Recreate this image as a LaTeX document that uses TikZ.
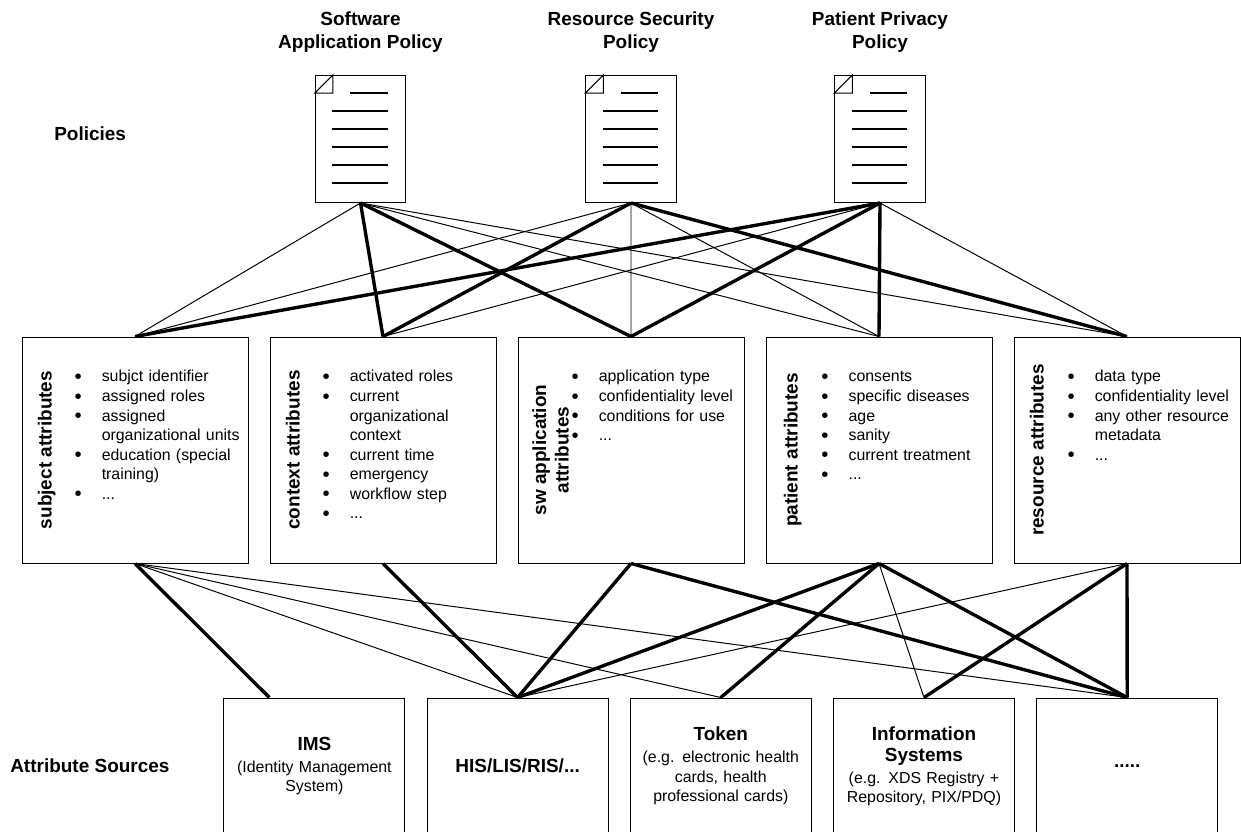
\documentclass[tikz,border=0pt]{standalone}
\usepackage{fontspec}
\setmainfont{Liberation Sans}
\usepackage{tikz}
\usetikzlibrary{calc}

\tikzstyle{doc} = [rectangle, minimum width=2.26cm, minimum height=3.175cm, draw=black, line width=0.7pt]
\tikzstyle{attrbox} = [rectangle, minimum width=5.65cm, minimum height=5.65cm, draw=black, line width=0.7pt]
\tikzstyle{sourcebox} = [rectangle, minimum width=4.525cm, minimum height=3.4cm, text width=4.4cm, align=center, inner sep=0pt, draw=black, line width=0.7pt, font=\fontsize{11.3}{13.8}\selectfont]
\tikzstyle{attrtitle} = [rotate=90, anchor=base, align=center, inner sep=0pt, font=\fontsize{13.5}{16}\selectfont\bfseries]
\tikzstyle{attrtext} = [anchor=north west, text width=4.3cm, inner sep=0pt, font=\fontsize{11.3}{13.9}\selectfont]
\tikzstyle{heading} = [align=center, inner sep=0pt, font=\fontsize{13.5}{16}\selectfont\bfseries]
\tikzstyle{thinlink} = [line width=0.7pt]
\tikzstyle{thicklink} = [line width=2.4pt]

\newenvironment{attrlist}{\begin{list}{\raisebox{-1.2pt}{\fontsize{14.5}{14}\selectfont\textbullet}}{\setlength{\leftmargin}{0.65cm}\setlength{\labelwidth}{0.3cm}\setlength{\labelsep}{0.5cm}\setlength{\itemsep}{0pt}\setlength{\parsep}{0pt}\setlength{\topsep}{0pt}\setlength{\partopsep}{0pt}\setlength{\parskip}{0pt}}\raggedright}{\end{list}}
\newcommand{\bigbold}[1]{{\fontsize{13.5}{16}\selectfont\bfseries #1}}
\newcommand{\doclines}[1]{
    \begin{scope}[shift={(#1.north west)}, line width=0.7pt]
        \draw (0,-0.45) -| (0.45,0) -- cycle;
        \draw [line width=1.4pt] (0.8875,-0.45) -- (1.82,-0.45);
        \draw [line width=1.4pt] (0.43,-0.9075) -- (1.82,-0.9075);
        \draw [line width=1.4pt] (0.43,-1.36) -- (1.82,-1.36);
        \draw [line width=1.4pt] (0.43,-1.81) -- (1.82,-1.81);
        \draw [line width=1.4pt] (0.43,-2.26) -- (1.82,-2.26);
        \draw [line width=1.4pt] (0.43,-2.71) -- (1.82,-2.71);
    \end{scope}
}

\begin{document}
\begin{tikzpicture}[node distance=6.2cm]
        \useasboundingbox (0,0) rectangle (31.025,-20.775);
        % policies
        \node (soft) [heading] at (9.0125,-0.8) {Software\\Application Policy};
        \node (sec) [heading] at (15.775,-0.8) {Resource Security\\Policy};
        \node (priv) [heading] at (22,-0.8) {Patient Privacy\\Policy};
        \node (policies) [heading, anchor=west] at (1.35,-3.35) {Policies};
        \node (doc1) [doc] at (9.0125,-3.475) {};
        \node (doc2) [doc] at (15.775,-3.475) {};
        \node (doc3) [doc] at (22,-3.475) {};
        \doclines{doc1}
        \doclines{doc2}
        \doclines{doc3}
        % attributes
        \node (subj) [attrbox] at (3.375,-11.25) {};
        \node (ctx) [attrbox, right of=subj] {};
        \node (sw) [attrbox, right of=ctx] {};
        \node (pat) [attrbox, right of=sw] {};
        \node (res) [attrbox, right of=pat] {};
        \node (subjtitle) [attrtitle] at ($(subj.west)+(0.75,0)$) {subject attributes};
        \node (ctxtitle) [attrtitle] at ($(ctx.west)+(0.75,0)$) {context attributes};
        \node (swtitle) [attrtitle] at ($(sw.west)+(1.28,0)$) {sw application\\attributes};
        \node (pattitle) [attrtitle] at ($(pat.west)+(0.8,0)$) {patient attributes};
        \node (restitle) [attrtitle] at ($(res.west)+(0.75,0)$) {resource attributes};
        \node (subjtext) [attrtext] at ($(subj.north west)+(1.35,-0.64)$) {\begin{attrlist}
            \item subjct identifier
            \item assigned roles
            \item assigned\\organizational units
            \item education (special\\training)
            \item ...
        \end{attrlist}};
        \node (ctxtext) [attrtext] at ($(ctx.north west)+(1.35,-0.64)$) {\begin{attrlist}
            \item activated roles
            \item current\\organizational\\context
            \item current time
            \item emergency
            \item workflow step
            \item ...
        \end{attrlist}};
        \node (swtext) [attrtext] at ($(sw.north west)+(1.375,-0.64)$) {\begin{attrlist}
            \item application type
            \item confidentiality level
            \item conditions for use
            \item ...
        \end{attrlist}};
        \node (pattext) [attrtext] at ($(pat.north west)+(1.42,-0.64)$) {\begin{attrlist}
            \item consents
            \item specific diseases
            \item age
            \item sanity
            \item current treatment
            \item ...
        \end{attrlist}};
        \node (restext) [attrtext] at ($(res.north west)+(1.375,-0.64)$) {\begin{attrlist}
            \item data type
            \item confidentiality level
            \item any other resource\\metadata
            \item ...
        \end{attrlist}};
        % attribute sources
        \node (sources) [heading, anchor=west] at (0.25,-19.15) {Attribute Sources};
        \node (ims) [sourcebox] at (7.86,-19.15) {\bigbold{IMS}\\[1.5pt](Identity Management\\System)};
        \node (his) [sourcebox, node distance=5.08cm, right of=ims] {\bigbold{HIS/LIS/RIS/...}};
        \node (token) [sourcebox, node distance=5.08cm, right of=his] {\bigbold{Token}\\[2pt](e.g. electronic health\\cards, health\\professional cards)};
        \node (info) [sourcebox, node distance=5.08cm, right of=token] {\bigbold{Information}\\[1.5pt]\bigbold{Systems}\\[1.5pt](e.g. XDS Registry +\\Repository, PIX/PDQ)};
        \node (more) [sourcebox, node distance=5.08cm, right of=info] {\bigbold{.....}};
        \coordinate (imsport) at ($(ims.north west)+(1.15,0)$);
        % policies to attributes
        \draw [thinlink] (doc1.south) -- (subj.north);
        \draw [thicklink] (doc1.south) -- (ctx.north);
        \draw [thicklink] (doc1.south) -- (sw.north);
        \draw [thinlink] (doc1.south) -- (pat.north);
        \draw [thinlink] (doc1.south) -- (res.north);
        \draw [thinlink] (doc2.south) -- (subj.north);
        \draw [thicklink] (doc2.south) -- (ctx.north);
        \draw [thinlink] (doc2.south) -- (sw.north);
        \draw [thinlink] (doc2.south) -- (pat.north);
        \draw [thicklink] (doc2.south) -- (res.north);
        \draw [thicklink] (doc3.south) -- (subj.north);
        \draw [thinlink] (doc3.south) -- (ctx.north);
        \draw [thicklink] (doc3.south) -- (sw.north);
        \draw [thicklink] (doc3.south) -- (pat.north);
        \draw [thinlink] (doc3.south) -- (res.north);
        % attributes to sources
        \draw [thicklink] (subj.south) -- (imsport);
        \draw [thinlink] (subj.south) -- (his.north);
        \draw [thinlink] (subj.south) -- (token.north);
        \draw [thinlink] (subj.south) -- (more.north);
        \draw [thicklink] (ctx.south) -- (his.north);
        \draw [thicklink] (sw.south) -- (his.north);
        \draw [thicklink] (sw.south) -- (more.north);
        \draw [thicklink] (pat.south) -- (his.north);
        \draw [thicklink] (pat.south) -- (token.north);
        \draw [thinlink] (pat.south) -- (info.north);
        \draw [thicklink] (pat.south) -- (more.north);
        \draw [thinlink] (res.south) -- (his.north);
        \draw [thicklink] (res.south) -- (info.north);
        \draw [thicklink] (res.south) -- (more.north);
    \end{tikzpicture}
\end{document}
